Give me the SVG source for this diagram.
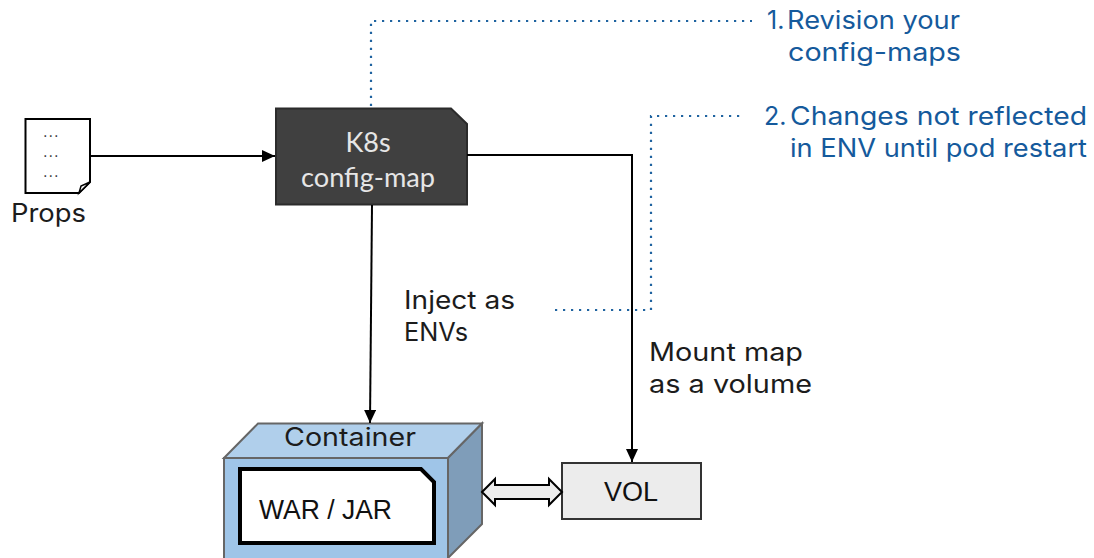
<svg xmlns="http://www.w3.org/2000/svg" width="1094" height="558" viewBox="0 0 1094 558">
<style>
text{font-family:"Inter","Noto Sans",sans-serif;font-size:25px;fill:#1c1c1c}
.note{fill:#155a9c}
.dot{fill:none;stroke:#1f63a0;stroke-width:2.200;stroke-dasharray:2.200 5.800}
.conn{fill:none;stroke:#000;stroke-width:2}
.lato{font-family:"Lato",sans-serif;font-size:27px;fill:#e6e6e6}
.arial{font-family:"Liberation Sans",sans-serif;font-size:27px;fill:#111}
.ell{font-size:14px;letter-spacing:1.500px;fill:#222}
</style>
<defs>
<marker id="arr" markerUnits="userSpaceOnUse" markerWidth="14" markerHeight="12" refX="13" refY="6" orient="auto"><path d="M0 0L13 6L0 12z" fill="#000"/></marker>
</defs>
<g id="props">
<path d="M25.500 119H90V182L79 193H25.500z" fill="#fff" stroke="#000" stroke-width="2"/>
<path d="M79 193L81 186L90 182z" fill="#fff" stroke="#000" stroke-width="1.500"/>
<text class="ell" x="51.500" y="137" text-anchor="middle">...</text>
<text class="ell" x="51.500" y="157" text-anchor="middle">...</text>
<text class="ell" x="51.500" y="177" text-anchor="middle">...</text>
<text x="11" y="222" textLength="75" lengthAdjust="spacingAndGlyphs">Props</text>
</g>
<g id="configmap">
<path d="M276 108.500H451L467 124V204.500H276z" fill="#404040" stroke="#2b2b2b" stroke-width="2"/>
<text class="lato" x="368" y="152" text-anchor="middle">K8s</text>
<text class="lato" x="368" y="187" text-anchor="middle" textLength="134" lengthAdjust="spacingAndGlyphs">config-map</text>
</g>
<g id="container">
<path d="M224 458L258 423.500H482L448 458z" fill="#b0cfeb" stroke="#666" stroke-width="2"/>
<path d="M448 458L482 423.500V524L448 558z" fill="#7f9db9" stroke="#666" stroke-width="2"/>
<rect x="224" y="458" width="224" height="102" fill="#9fc5e8" stroke="#666" stroke-width="2"/>
<text x="284" y="446" textLength="132" lengthAdjust="spacingAndGlyphs">Container</text>
</g>
<g id="war">
<path d="M240 469H421L434 482V543H240z" fill="#fff" stroke="#000" stroke-width="4"/>
<text class="arial" x="259" y="519" textLength="133" lengthAdjust="spacingAndGlyphs">WAR / JAR</text>
</g>
<g id="vol">
<rect x="562" y="463" width="139" height="56" fill="#ececec" stroke="#333" stroke-width="2"/>
<text class="arial" x="631" y="501" text-anchor="middle">VOL</text>
</g>
<g id="connectors">
<path class="conn" d="M90 156H275" marker-end="url(#arr)"/>
<path class="conn" d="M467 155H632V462" marker-end="url(#arr)"/>
<path class="conn" d="M372 205L370 423" marker-end="url(#arr)"/>
<path d="M482 492L495 479V485H549V479L562 492L549 505V499H495V505z" fill="#ececec" stroke="#000" stroke-width="2"/>
<path class="dot" d="M371 106V21H752"/>
<path class="dot" d="M555 310H651V116H742"/>
</g>
<g id="labels">
<text class="note" x="767" y="29">1.</text>
<text class="note" x="787" y="29" textLength="173" lengthAdjust="spacingAndGlyphs">Revision your</text>
<text class="note" x="788" y="61" textLength="173" lengthAdjust="spacingAndGlyphs">config-maps</text>
<text class="note" x="764" y="125">2.</text>
<text class="note" x="790" y="125" textLength="297" lengthAdjust="spacingAndGlyphs">Changes not reflected</text>
<text class="note" x="790" y="157" textLength="297" lengthAdjust="spacingAndGlyphs">in ENV until pod restart</text>
<text x="404" y="309" textLength="111" lengthAdjust="spacingAndGlyphs">Inject as</text>
<text x="404" y="341" textLength="64" lengthAdjust="spacingAndGlyphs">ENVs</text>
<text x="649" y="361" textLength="154" lengthAdjust="spacingAndGlyphs">Mount map</text>
<text x="649" y="393" textLength="163" lengthAdjust="spacingAndGlyphs">as a volume</text>
</g>
</svg>
